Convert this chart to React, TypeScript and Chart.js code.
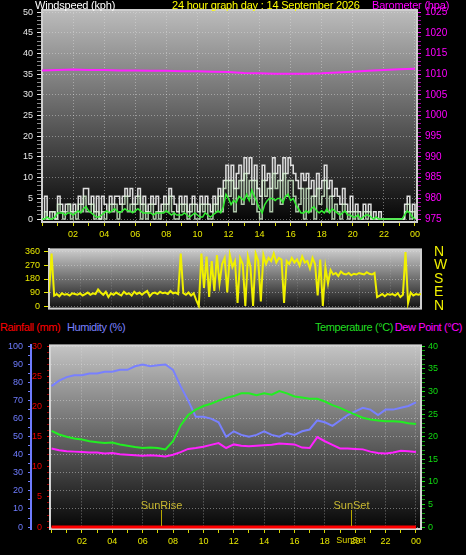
import React, { useEffect, useRef } from 'react';
import { Chart, registerables } from 'chart.js';

Chart.register(...registerables);

// ---------------- data ----------------
const titleText = '24 hour graph day : 14 September 2026';
const xLabelHours = [2, 4, 6, 8, 10, 12, 14, 16, 18, 20, 22, 24];
const xLabelText = ['02', '04', '06', '08', '10', '12', '14', '16', '18', '20', '22', '00'];

const windTicks = [0, 5, 10, 15, 20, 25, 30, 35, 40, 45, 50];
const baroTicks = [975, 980, 985, 990, 995, 1000, 1005, 1010, 1015, 1020, 1025];
const dirTicks = [0, 90, 180, 270, 360];
const dirCompass = ['N', 'E', 'S', 'W', 'N'];
const humTicks = [0, 10, 20, 30, 40, 50, 60, 70, 80, 90, 100];
const rainTicks = [0, 5, 10, 15, 20, 25, 30];
const tempTicks = [0, 5, 10, 15, 20, 25, 30, 35, 40];

// wind, every 10 minutes (kph)
const windGust = [
  0, 5.5, 0, 1.8, 1.8, 0,
  5.5, 3.6, 1.8, 3.6, 3.6, 1.8,
  3.6, 1.8, 5.5, 3.6, 7.4, 7.4,
  3.6, 5.5, 1.8, 5.5, 0, 5.5,
  3.6, 1.8, 5.5, 3.6, 5.5, 5.5,
  3.6, 5.5, 7.4, 5.5, 7.4, 3.6,
  5.5, 7.4, 3.6, 5.5, 1.8, 3.6,
  5.5, 3.6, 5.5, 1.8, 3.6, 5.5,
  3.6, 7.4, 5.5, 3.6, 1.8, 5.5,
  3.6, 5.5, 1.8, 3.6, 5.5, 3.6,
  1.8, 5.5, 3.6, 5.5, 3.6, 1.8,
  5.5, 3.6, 7.4, 5.5, 9.3, 13,
  9.3, 13, 7.4, 11, 13, 9.3,
  14.8, 11, 14.8, 9.3, 13, 7.4,
  5.5, 13, 9.3, 11, 7.4, 14.8,
  11, 13, 9.3, 14.8, 11, 14.8,
  13, 11, 9.3, 7.4, 11, 9.3,
  11, 7.4, 9.3, 5.5, 11, 7.4,
  9.3, 13, 7.4, 9.3, 5.5, 7.4,
  5.5, 3.6, 7.4, 3.6, 1.8, 5.5,
  1.8, 3.6, 1.8, 0, 3.6, 1.8,
  3.6, 0, 1.8, 0, 1.8, 0,
  0, 0, 0, 0, 0, 0,
  0, 0, 3.6, 5.5, 1.8, 3.6,
  0,
];
const windSpeed = [
  0, 1.8, 0, 0, 1.8, 0,
  3.6, 1.8, 0, 1.8, 3.6, 0,
  1.8, 0, 3.6, 1.8, 5.5, 1.8,
  1.8, 3.6, 0, 1.8, 0, 1.8,
  0, 1.8, 3.6, 1.8, 3.6, 0,
  1.8, 3.6, 5.5, 1.8, 3.6, 1.8,
  3.6, 5.5, 0, 3.6, 0, 1.8,
  3.6, 0, 1.8, 0, 1.8, 3.6,
  1.8, 5.5, 1.8, 0, 0, 3.6,
  1.8, 3.6, 0, 1.8, 3.6, 0,
  0, 3.6, 1.8, 3.6, 0, 0,
  3.6, 1.8, 5.5, 1.8, 7.4, 9.3,
  5.5, 9.3, 1.8, 7.4, 9.3, 3.6,
  11, 5.5, 9.3, 3.6, 9.3, 1.8,
  0, 9.3, 5.5, 7.4, 1.8, 11,
  7.4, 9.3, 3.6, 11, 5.5, 9.3,
  9.3, 5.5, 1.8, 3.6, 7.4, 0,
  7.4, 1.8, 5.5, 0, 7.4, 3.6,
  5.5, 9.3, 1.8, 5.5, 0, 3.6,
  1.8, 0, 3.6, 1.8, 0, 1.8,
  0, 1.8, 0, 0, 1.8, 0,
  1.8, 0, 0, 0, 0, 0,
  0, 0, 0, 0, 0, 0,
  0, 0, 1.8, 3.6, 0, 1.8,
  0,
];
const windAvg = [
  0, 0, 0.5, 0, 0, 0.5,
  1.5, 1.5, 1.5, 1.0, 1.5, 1.5,
  1.0, 1.5, 2.0, 1.5, 2.5, 3.0,
  2.0, 1.5, 1.0, 0.5, 0.5, 1.0,
  1.5, 2.0, 1.5, 2.0, 2.5, 2.0,
  1.5, 2.0, 2.5, 2.0, 2.0, 1.5,
  2.0, 2.5, 2.0, 1.5, 1.5, 1.5,
  1.5, 1.0, 1.5, 1.5, 1.5, 1.5,
  2.0, 1.5, 1.0, 1.5, 1.0, 1.0,
  1.0, 1.5, 1.0, 0.5, 1.0, 1.5,
  1.0, 0.5, 0.5, 1.5, 1.0, 0.5,
  1.0, 1.5, 2.0, 1.5, 3.0, 6.0,
  5.0, 3.5, 4.5, 4.0, 5.5, 5.0,
  4.5, 6.0, 4.5, 7.0, 5.5, 4.0,
  2.5, 1.5, 3.5, 4.5, 5.0, 5.0,
  4.5, 5.0, 5.0, 4.0, 5.5, 6.0,
  4.5, 5.0, 3.5, 2.5, 1.5, 1.5,
  2.0, 1.5, 2.5, 3.0, 2.0, 1.5,
  2.0, 1.5, 2.5, 1.5, 2.5, 2.0,
  1.5, 1.0, 1.5, 2.0, 1.0, 1.0,
  0.5, 0.5, 1.0, 0, 0.5, 1.0,
  1.0, 0.5, 0, 0.5, 0, 0,
  0, 0, 0, 0, 0, 0,
  0, 0, 1.0, 2.0, 1.5, 0.5,
  0,
];
// barometer, hourly (hPa)
const barometer = [
  1010.9, 1011.0, 1011.1, 1011.0, 1011.0, 1010.9, 1010.9, 1010.8, 1010.8, 1010.7,
  1010.7, 1010.6, 1010.5, 1010.3, 1010.2, 1010.1, 1010.1, 1010.1, 1010.2, 1010.4,
  1010.6, 1010.8, 1011.0, 1011.2, 1011.3,
];
// wind direction, every 10 minutes (degrees)
const windDir = [
  90, 350, 70, 80, 65, 85,
  75, 80, 70, 85, 80, 75,
  85, 70, 80, 90, 75, 85,
  80, 110, 90, 75, 95, 60,
  85, 75, 90, 80, 70, 95,
  80, 85, 70, 95, 80, 90,
  75, 90, 100, 65, 85, 90,
  80, 95, 85, 90, 80, 100,
  85, 90, 80, 350, 85, 75,
  90, 70, 85, 40, 0, 350,
  120, 330, 60, 300, 100, 340,
  150, 280, 320, 90, 340, 260,
  300, 20, 320, 280, 0, 330,
  260, 0, 350, 300, 30, 340,
  280, 320, 300, 350, 290, 320,
  310, 20, 300, 280, 320, 290,
  310, 270, 330, 290, 300, 250,
  320, 280, 70, 310, 0, 260,
  150, 240, 210, 220, 200, 230,
  215, 210, 220, 205, 215, 210,
  220, 215, 210, 225, 215, 210,
  220, 60, 70, 80, 65, 80,
  75, 80, 70, 85, 60, 75,
  360, 20, 90, 70, 80, 75,
  80,
];
// every 30 minutes
const humidity = [
  78, 81, 83, 84, 84, 85, 85, 86, 86, 87,
  87, 89, 90, 89, 89.5, 90, 87, 78, 70, 61,
  61, 60, 58, 50, 53, 51, 50, 51, 53, 51,
  50, 52, 51, 53, 54, 59, 58, 56, 59, 62,
  64, 66, 65, 62, 65, 65, 66, 67, 69,
];
const temperature = [
  21.3, 20.5, 20.0, 19.6, 19.4, 19.0, 18.8, 18.6, 18.7, 18.3,
  18.0, 17.7, 17.5, 17.6, 17.5, 17.2, 19.0, 22.5, 24.8, 26.0,
  26.8, 27.3, 28.0, 28.6, 29.0, 29.6, 29.6, 29.2, 29.6, 29.3,
  30.1, 29.6, 28.9, 28.7, 28.4, 28.4, 27.8, 27.0, 26.4, 25.6,
  24.9, 24.2, 23.8, 23.6, 23.4, 23.4, 23.3, 23.0, 22.8,
];
const dewPoint = [
  17.4, 17.0, 16.8, 16.7, 16.6, 16.5, 16.5, 16.3, 16.4, 16.1,
  16.0, 15.9, 15.8, 15.9, 15.8, 15.6, 16.0, 16.6, 17.3, 17.5,
  17.8, 18.2, 18.6, 17.5, 18.3, 18.0, 17.9, 18.0, 18.1, 18.2,
  18.5, 18.4, 18.3, 17.6, 17.5, 19.9, 19.0, 18.2, 17.4, 17.4,
  17.3, 17.2, 16.7, 16.4, 16.3, 16.5, 16.9, 16.8, 16.6,
];
// hourly rainfall (mm)
const rainfall = [0, 0, 0, 0, 0, 0, 0, 0, 0, 0, 0, 0, 0, 0, 0, 0, 0, 0, 0, 0, 0, 0, 0, 0, 0];
const sunTimes = [7.2, 19.72];
const sunNames = ['SunRise', 'SunSet'];

// ---------------- helpers ----------------
const FONT = "'Liberation Sans', Arial, sans-serif";
const pts = (vals: number[], step: number) => vals.map((y, i) => ({ x: i * step, y }));

function mkTicks(major: number[], labels: string[], minorStep: number, lo: number, hi: number) {
  const out: any[] = [];
  if (minorStep > 0) {
    const n = Math.round((hi - lo) / minorStep);
    for (let k = 0; k <= n; k++) {
      const v = Math.round((lo + k * minorStep) * 1000) / 1000;
      if (!major.some((m) => Math.abs(m - v) < 1e-6)) out.push({ value: v, mj: false, txt: '' });
    }
  }
  major.forEach((m, i) => out.push({ value: m, mj: true, txt: labels[i] }));
  out.sort((a, b) => a.value - b.value);
  return out;
}

function axis(o: any) {
  const tks = o.ticks;
  return {
    type: 'linear',
    position: o.position,
    weight: o.weight ?? 0,
    min: o.min,
    max: o.max,
    afterBuildTicks: (s: any) => {
      s.ticks = tks.map((t: any) => ({ ...t }));
    },
    afterFit: (s: any) => {
      if (o.width != null) s.width = o.width;
      if (o.height != null) s.height = o.height;
    },
    ticks: {
      autoSkip: false,
      maxRotation: 0,
      minRotation: 0,
      display: o.showLabels !== false,
      color: o.color || '#fff',
      font: { family: FONT, size: o.size ?? 9 },
      padding: o.padding ?? 3,
      callback: (_v: any, i: number, arr: any[]) => (arr[i] ? arr[i].txt : ''),
    },
    grid: {
      display: true,
      drawOnChartArea: !!o.gridColor,
      drawTicks: (o.tickLength || 0) > 0,
      tickLength: o.tickLength || 0,
      color: (c: any) => (c.tick && c.tick.mj && o.gridColor ? o.gridColor : 'rgba(0,0,0,0)'),
      tickColor: (c: any) => (c.tick && c.tick.mj ? o.tickColor : o.minorColor || o.tickColor),
      lineWidth: 1,
    },
    border: {
      display: !!o.borderColor,
      color: o.borderColor || 'rgba(0,0,0,0)',
      width: o.borderWidth ?? 1,
      dash: o.gridColor ? [1, 2] : [],
    },
  };
}

function bgPlugin(top: string, bottom: string, frame: string) {
  return {
    id: 'bgframe',
    beforeDraw(chart: any) {
      const { ctx, chartArea: a, width, height } = chart;
      ctx.save();
      ctx.fillStyle = '#000';
      ctx.fillRect(0, 0, width, height);
      const g = ctx.createLinearGradient(0, a.top, 0, a.bottom);
      g.addColorStop(0, top);
      g.addColorStop(1, bottom);
      ctx.fillStyle = g;
      ctx.fillRect(a.left, a.top, a.right - a.left, a.bottom - a.top);
      ctx.restore();
    },
    beforeDatasetsDraw(chart: any) {
      const { ctx, chartArea: a } = chart;
      ctx.save();
      ctx.strokeStyle = frame;
      ctx.lineWidth = 2;
      ctx.strokeRect(a.left, a.top, a.right - a.left, a.bottom - a.top);
      ctx.restore();
    },
  };
}

// compass letters beside the wind-direction axis
const compassPlugin = {
  id: 'compass',
  afterDraw(chart: any) {
    const { ctx, chartArea: a, scales } = chart;
    ctx.save();
    ctx.fillStyle = '#f0f000';
    ctx.font = `14px ${FONT}`;
    ctx.textAlign = 'left';
    ctx.textBaseline = 'middle';
    dirTicks.forEach((v, i) => {
      ctx.fillText(dirCompass[i], a.right + 13, scales.y.getPixelForValue(v));
    });
    ctx.restore();
  },
};

const sunPlugin = {
  id: 'sun',
  afterDatasetsDraw(chart: any) {
    const { ctx, chartArea: a, scales } = chart;
    ctx.save();
    sunTimes.forEach((t, i) => {
      const x = Math.round(scales.x.getPixelForValue(t)) + 0.5;
      ctx.strokeStyle = '#b8a800';
      ctx.lineWidth = 1;
      ctx.beginPath();
      ctx.moveTo(x, a.bottom - 19);
      ctx.lineTo(x, a.bottom - 3);
      ctx.stroke();
      ctx.fillStyle = '#c8b830';
      ctx.font = `11px ${FONT}`;
      ctx.textAlign = 'center';
      ctx.textBaseline = 'middle';
      ctx.fillText(sunNames[i], x, a.bottom - 23);
    });
    ctx.fillStyle = '#e0d800';
    ctx.font = `9px ${FONT}`;
    ctx.textAlign = 'center';
    ctx.textBaseline = 'middle';
    ctx.fillText(sunNames[1], scales.x.getPixelForValue(sunTimes[1]), a.bottom + 12);
    ctx.restore();
  },
};

const GRID = 'rgba(225,225,225,0.45)';
const line = (label: string, data: any[], color: string, width: number, yAxisID: string, extra: any = {}) => ({
  label,
  data,
  borderColor: color,
  backgroundColor: color,
  borderWidth: width,
  pointRadius: 0,
  tension: 0,
  fill: false,
  yAxisID,
  ...extra,
});

export default function App() {
  const r1 = useRef<HTMLCanvasElement>(null);
  const r2 = useRef<HTMLCanvasElement>(null);
  const r3 = useRef<HTMLCanvasElement>(null);

  useEffect(() => {
    document.body.style.margin = '0';
    document.body.style.background = '#000';
    const charts: any[] = [];

    charts.push(
      new Chart(r1.current as any, {
        type: 'line',
        data: {
          datasets: [
            line('Barometer', pts(barometer, 1), '#ff22ff', 2, 'yb'),
            line('Average', pts(windAvg, 1 / 6), '#33ee33', 1.5, 'y'),
            line('Speed', pts(windSpeed, 1 / 6), 'rgba(215,245,210,0.8)', 1.5, 'y', { stepped: true }),
            line('Gust', pts(windGust, 1 / 6), '#dedede', 1.5, 'y', { stepped: true }),
          ],
        },
        options: {
          animation: false,
          responsive: false,
          maintainAspectRatio: false,
          layout: { padding: { top: 10, left: 0, right: 0, bottom: 0 } },
          plugins: { legend: { display: false }, tooltip: { enabled: false }, title: { display: false } },
          scales: {
            x: axis({ position: 'bottom', min: 0, max: 24.13, ticks: mkTicks(xLabelHours, xLabelText, 1, 0, 24), color: '#e8e800', tickColor: '#d8d800', tickLength: 4, padding: 3, height: 18, gridColor: GRID }),
            y: axis({ position: 'left', min: -0.7, max: 50.5, ticks: mkTicks(windTicks, windTicks.map(String), 1, 0, 50), color: '#e8e8e8', tickColor: '#e8e8e8', minorColor: 'rgba(230,230,230,0.6)', tickLength: 5, padding: 4, width: 42, gridColor: GRID, borderColor: '#e8e8e8', borderWidth: 2 }),
            yb: axis({ position: 'right', min: 974.3, max: 1025.5, ticks: mkTicks(baroTicks, baroTicks.map(String), 1, 975, 1025), color: '#ff00ff', tickColor: '#ff00ff', minorColor: 'rgba(255,0,255,0.6)', tickLength: 4, padding: 4, width: 49, size: 10 }),
          },
        } as any,
        plugins: [bgPlugin('#bcbcbc', '#050505', '#cfcfcf')],
      })
    );

    charts.push(
      new Chart(r2.current as any, {
        type: 'line',
        data: {
          datasets: [line('Direction', pts(windDir, 1 / 6), '#f0f000', 2, 'y')],
        },
        options: {
          animation: false,
          responsive: false,
          maintainAspectRatio: false,
          layout: { padding: { top: 4, left: 0, right: 45, bottom: 0 } },
          plugins: { legend: { display: false }, tooltip: { enabled: false } },
          scales: {
            x: axis({ position: 'bottom', min: 0, max: 24, ticks: mkTicks(xLabelHours, xLabelText, 0, 0, 24), showLabels: false, tickLength: 0, height: 5, gridColor: 'rgba(225,225,225,0.25)' }),
            y: axis({ position: 'left', min: -17.1, max: 377.1, ticks: mkTicks(dirTicks, dirTicks.map(String), 0, 0, 360), color: '#e8e800', tickColor: '#e8e800', tickLength: 5, padding: 4, width: 49, gridColor: GRID, borderColor: '#e0e0e0', borderWidth: 2 }),
          },
        } as any,
        plugins: [bgPlugin('#cccccc', '#101010', '#cfcfcf'), compassPlugin],
      })
    );

    charts.push(
      new Chart(r3.current as any, {
        type: 'line',
        data: {
          datasets: [
            line('Rainfall', pts(rainfall, 1), '#ff0000', 3, 'rain'),
            line('Temperature', pts(temperature, 0.5), '#22ee22', 2, 'temp'),
            line('Dew Point', pts(dewPoint, 0.5), '#ff22ff', 2, 'temp'),
            line('Humidity', pts(humidity, 0.5), '#7880ff', 2, 'hum'),
          ],
        },
        options: {
          animation: false,
          responsive: false,
          maintainAspectRatio: false,
          layout: { padding: { top: 6, left: 0, right: 0, bottom: 0 } },
          plugins: { legend: { display: false }, tooltip: { enabled: false } },
          scales: {
            x: axis({ position: 'bottom', min: -0.1, max: 24.33, ticks: mkTicks(xLabelHours, xLabelText, 1, 0, 24), color: '#e8e800', tickColor: '#d8d800', tickLength: 4, padding: 3, height: 26, gridColor: GRID }),
            hum: axis({ position: 'left', weight: 1, min: -1.08, max: 100.54, ticks: mkTicks(humTicks, humTicks.map(String), 5, 0, 100), color: '#6f7cff', tickColor: '#6f7cff', tickLength: 3, padding: 5, width: 31, gridColor: GRID, borderColor: '#6f7cff', borderWidth: 2 }),
            rain: axis({ position: 'left', weight: 0, min: -0.324, max: 30.16, ticks: mkTicks(rainTicks, rainTicks.map(String), 1, 0, 30), color: '#ee0000', tickColor: '#dd0000', minorColor: 'rgba(220,0,0,0.7)', tickLength: 3, padding: 5, width: 19 }),
            temp: axis({ position: 'right', min: -0.432, max: 40.22, ticks: mkTicks(tempTicks, tempTicks.map(String), 1, 0, 40), color: '#11dd11', tickColor: '#11dd11', minorColor: 'rgba(17,221,17,0.7)', tickLength: 4, padding: 3, width: 45 }),
          },
        } as any,
        plugins: [bgPlugin('#c4c4c4', '#050505', '#d4d4d4'), sunPlugin],
      })
    );

    return () => charts.forEach((c) => c.destroy());
  }, []);

  const txt = (s: any): any => ({ position: 'absolute', fontFamily: FONT, fontSize: 11, lineHeight: '11px', whiteSpace: 'nowrap', ...s });

  return (
    <div style={{ position: 'fixed', left: 0, top: 0, width: 466, height: 555, background: '#000', overflow: 'hidden' }}>
      <canvas ref={r1} width={466} height={240} style={{ position: 'absolute', left: 0, top: 0, width: 466, height: 240 }} />
      <canvas ref={r2} width={466} height={78} style={{ position: 'absolute', left: 0, top: 240, width: 466, height: 78 }} />
      <canvas ref={r3} width={466} height={220} style={{ position: 'absolute', left: 0, top: 335, width: 466, height: 220 }} />
      <div style={txt({ left: 35, top: 0, color: '#ffffff', letterSpacing: '-0.2px' })}>Windspeed (kph)</div>
      <div style={txt({ left: 172, top: 0, color: '#ffff00', letterSpacing: '-0.2px' })}>{titleText}</div>
      <div style={txt({ left: 372, top: 0, color: '#ff00ff', letterSpacing: '-0.2px' })}>Barometer (hpa)</div>
      <div style={txt({ left: 0, top: 322, color: '#ff0000', letterSpacing: '-0.4px' })}>Rainfall (mm)</div>
      <div style={txt({ left: 67, top: 322, color: '#7a80ff', letterSpacing: '-0.4px' })}>Humidity (%)</div>
      <div style={txt({ right: 73, top: 322, color: '#22dd22', letterSpacing: '-0.4px' })}>Temperature (°C)</div>
      <div style={txt({ right: 4, top: 322, color: '#ff00ff', letterSpacing: '-0.4px' })}>Dew Point (°C)</div>
    </div>
  );
}
